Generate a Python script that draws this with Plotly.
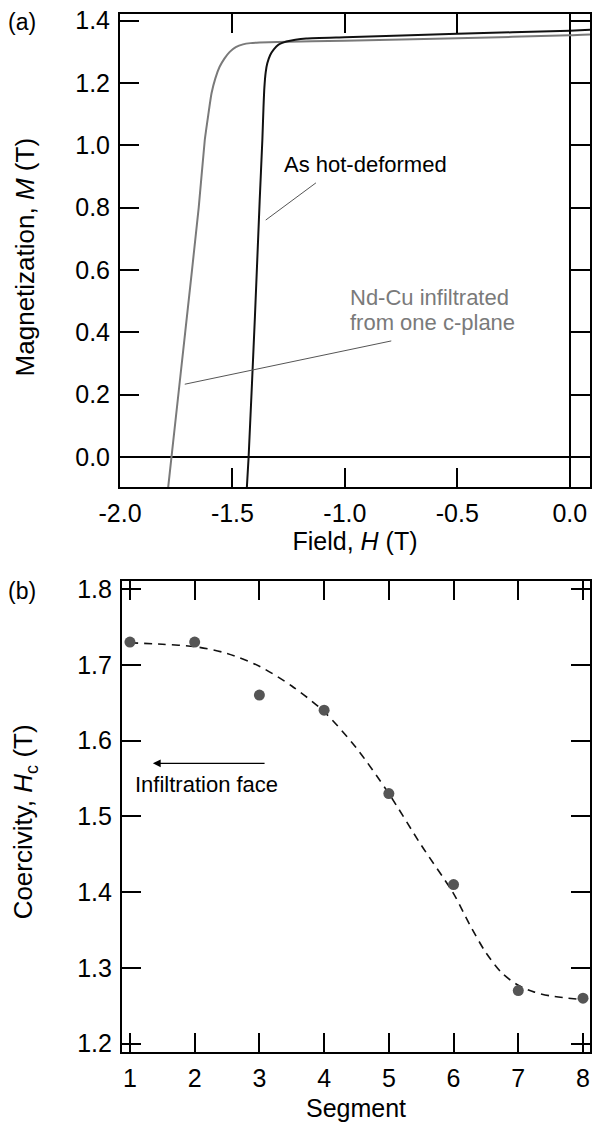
import plotly.graph_objects as go

# ---------------- Panel (a) data: demagnetization curves ----------------
field_hot = [-1.436, -1.428, -1.40, -1.379, -1.367, -1.362, -1.358, -1.352, -1.345, -1.332,
             -1.316, -1.295, -1.26, -1.22, -1.172, -1.0, -0.5, 0.0, 0.09]
mag_hot = [-0.10, 0.0, 0.45, 0.82, 1.017, 1.12, 1.185, 1.235, 1.263, 1.290,
           1.308, 1.323, 1.333, 1.339, 1.343, 1.347, 1.358, 1.368, 1.371]

field_ndcu = [-1.786, -1.771, -1.71, -1.65, -1.623, -1.607, -1.593, -1.576, -1.557, -1.535,
              -1.512, -1.485, -1.453, -1.42, -1.379, -1.3, -1.0, -0.5, 0.0, 0.09]
mag_ndcu = [-0.10, 0.0, 0.40, 0.80, 1.017, 1.100, 1.167, 1.215, 1.252, 1.279,
            1.300, 1.315, 1.324, 1.328, 1.330, 1.332, 1.336, 1.344, 1.353, 1.356]

field_ticks = [-2.0, -1.5, -1.0, -0.5, 0.0]
field_ticktext = ["-2.0", "-1.5", "-1.0", "-0.5", "0.0"]

# ---------------- Panel (b) data: coercivity by segment ----------------
segments = [1, 2, 3, 4, 5, 6, 7, 8]
coercivity = [1.73, 1.73, 1.66, 1.64, 1.53, 1.41, 1.27, 1.26]

fit_x = [1, 1.5, 2, 2.5, 3, 3.5, 4, 4.5, 5, 5.5, 6, 6.25, 6.5, 6.75, 7, 7.25, 7.5, 8]
fit_y = [1.729, 1.727, 1.724, 1.715, 1.698, 1.672, 1.638, 1.590, 1.530, 1.462,
         1.398, 1.357, 1.320, 1.293, 1.277, 1.268, 1.263, 1.258]

FONT = "Liberation Sans, Arial, Helvetica, sans-serif"
GRAY = "#7a7a7a"

fig = go.Figure()

fig.add_trace(go.Scatter(x=field_ndcu, y=mag_ndcu, mode="lines",
                         line=dict(color=GRAY, width=2, shape="spline", smoothing=0.5),
                         xaxis="x", yaxis="y", showlegend=False))
fig.add_trace(go.Scatter(x=field_hot, y=mag_hot, mode="lines",
                         line=dict(color="#111111", width=2, shape="spline", smoothing=0.5),
                         xaxis="x", yaxis="y", showlegend=False))

fig.add_trace(go.Scatter(x=fit_x, y=fit_y, mode="lines",
                         line=dict(color="#111111", width=1.6, dash="8px,6px",
                                   shape="spline", smoothing=0.8),
                         xaxis="x2", yaxis="y2", showlegend=False))
fig.add_trace(go.Scatter(x=segments, y=coercivity, mode="markers",
                         marker=dict(color="#555555", size=11, line=dict(width=0)),
                         xaxis="x2", yaxis="y2", showlegend=False, cliponaxis=False))

axis_common = dict(showline=True, linecolor="black", linewidth=2, mirror="ticks",
                   ticks="inside", ticklen=19, tickwidth=2, tickcolor="black",
                   showgrid=False, tickfont=dict(family=FONT, size=25, color="black"))

fig.update_layout(
    width=593, height=1122,
    margin=dict(l=120, r=1, t=14, b=70),
    paper_bgcolor="white", plot_bgcolor="white",
    font=dict(family=FONT, color="black"),
    xaxis=dict(domain=[0, 1], range=[-2.0, 0.09], tickvals=field_ticks, ticktext=field_ticktext,
               anchor="y", zeroline=True, zerolinecolor="black", zerolinewidth=2,
               ticklabelstandoff=3,
               title=dict(text="Field, <i>H</i> (T)", font=dict(size=25), standoff=2),
               **axis_common),
    yaxis=dict(domain=[0.544, 1], range=[-0.098, 1.4215], dtick=0.2, tick0=0, tickformat=".1f",
               anchor="x", zeroline=True, zerolinecolor="black", zerolinewidth=2,
               ticklabelstandoff=3, **axis_common),
    xaxis2=dict(domain=[2/472, 1], range=[0.877, 8.108], dtick=1, tick0=1,
                anchor="y2", zeroline=False, ticklabelstandoff=3,
                title=dict(text="Segment", font=dict(size=25), standoff=10),
                **axis_common),
    yaxis2=dict(domain=[0, 0.4538], range=[1.189, 1.8106], dtick=0.1, tick0=1.2,
                tickformat=".1f", anchor="x2", zeroline=False, ticklabelstandoff=3,
                **axis_common),
)

annotations = [
    # y-axis titles
    dict(text="Magnetization, <i>M</i> (T)", xref="paper", yref="paper", x=-0.2013, y=0.7659,
         xanchor="center", yanchor="middle", textangle=-90, showarrow=False,
         font=dict(size=26, color="black")),
    dict(text="Coercivity, <i>H</i><sub>c</sub> (T)", xref="paper", yref="paper", x=-0.2013, y=0.2216,
         xanchor="center", yanchor="middle", textangle=-90, showarrow=False,
         font=dict(size=26, color="black")),
    # panel labels
    dict(text="(a)", xref="paper", yref="paper", x=-0.2415, y=0.9923,
         xanchor="left", yanchor="middle", showarrow=False, font=dict(size=23)),
    dict(text="(b)", xref="paper", yref="paper", x=-0.2415, y=0.4444,
         xanchor="left", yanchor="middle", showarrow=False, font=dict(size=23)),
    # panel (a) labels
    dict(text="As hot-deformed", xref="x", yref="y", x=-1.281, y=0.937,
         xanchor="left", yanchor="middle", showarrow=False, font=dict(size=22, color="black")),
    dict(text="", xref="x", yref="y", x=-1.352, y=0.760, ax=-1.122, ay=0.883,
         axref="x", ayref="y", showarrow=True, arrowhead=0, arrowwidth=1,
         arrowcolor="#555555", standoff=0),
    dict(text="Nd-Cu infiltrated", xref="x", yref="y", x=-0.988, y=0.510,
         xanchor="left", yanchor="middle", showarrow=False, font=dict(size=22, color=GRAY)),
    dict(text="from one c-plane", xref="x", yref="y", x=-0.988, y=0.430,
         xanchor="left", yanchor="middle", showarrow=False, font=dict(size=22, color=GRAY)),
    dict(text="", xref="x", yref="y", x=-1.712, y=0.233, ax=-0.787, ay=0.373,
         axref="x", ayref="y", showarrow=True, arrowhead=0, arrowwidth=1,
         arrowcolor="#555555", standoff=0),
    # panel (b)
    dict(text="", xref="x2", yref="y2", x=1.354, y=1.570, ax=3.103, ay=1.570,
         axref="x2", ayref="y2", showarrow=True, arrowhead=2, arrowsize=1.3,
         arrowwidth=1.2, arrowcolor="black", standoff=0),
    dict(text="Infiltration face", xref="x2", yref="y2", x=2.185, y=1.5414,
         xanchor="center", yanchor="middle", showarrow=False, font=dict(size=22, color="black")),
]
fig.update_layout(annotations=annotations)

fig.write_html(
    "out.html",
    config={"displayModeBar": False},
    post_script="document.body.style.margin='0';document.body.style.padding='0';"
                "document.body.style.overflow='hidden';",
)
